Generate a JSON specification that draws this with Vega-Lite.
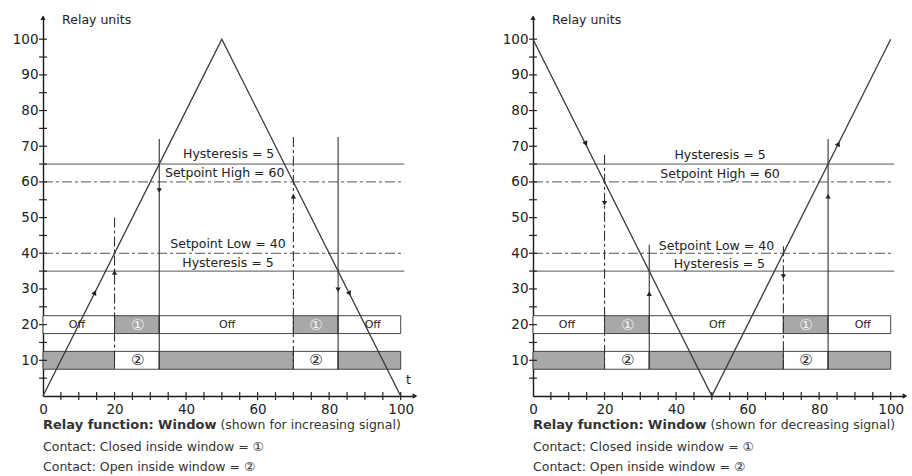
{
  "$schema": "https://vega.github.io/schema/vega-lite/v6.json",
  "padding": {"left": 12, "top": 13, "right": 0, "bottom": 0},
  "spacing": 84,
  "background": "white",
  "config": {
    "view": {"stroke": null},
    "font": "DejaVu Sans",
    "axis": {"grid": false, "ticks": false, "domainColor": "#1a1a1a", "domainWidth": 1.4, "labelFont": "DejaVu Sans", "labelFontSize": 13.5, "labelColor": "#222222", "labelFlush": false, "labelOverlap": false},
    "text": {"font": "DejaVu Sans", "fontSize": 12.5, "color": "#222222"}
  },
  "datasets": {
    "bands": [
      {"x0": 0, "x1": 20, "lo": 17.5, "hi": 22.5, "state": "open", "label": "Off", "xc": 9.5, "yc": 20},
      {"x0": 20, "x1": 32.5, "lo": 17.5, "hi": 22.5, "state": "closed", "label": "①", "xc": 26.5, "yc": 20},
      {"x0": 32.5, "x1": 70, "lo": 17.5, "hi": 22.5, "state": "open", "label": "Off", "xc": 51.5, "yc": 20},
      {"x0": 70, "x1": 82.5, "lo": 17.5, "hi": 22.5, "state": "closed", "label": "①", "xc": 76.3, "yc": 20},
      {"x0": 82.5, "x1": 100, "lo": 17.5, "hi": 22.5, "state": "open", "label": "Off", "xc": 92.2, "yc": 20},
      {"x0": 0, "x1": 20, "lo": 7.5, "hi": 12.5, "state": "closed", "label": "", "xc": 10, "yc": 10},
      {"x0": 20, "x1": 32.5, "lo": 7.5, "hi": 12.5, "state": "open", "label": "②", "xc": 26.5, "yc": 10},
      {"x0": 32.5, "x1": 70, "lo": 7.5, "hi": 12.5, "state": "closed", "label": "", "xc": 51, "yc": 10},
      {"x0": 70, "x1": 82.5, "lo": 7.5, "hi": 12.5, "state": "open", "label": "②", "xc": 76.3, "yc": 10},
      {"x0": 82.5, "x1": 100, "lo": 7.5, "hi": 12.5, "state": "closed", "label": "", "xc": 91, "yc": 10}
    ],
    "hlines": [
      {"y": 65, "kind": "solid"},
      {"y": 60, "kind": "dashdot"},
      {"y": 40, "kind": "dashdot"},
      {"y": 35, "kind": "solid"}
    ],
    "ticks": [
      {"v": 5}, {"v": 10}, {"v": 15}, {"v": 20}, {"v": 25}, {"v": 30}, {"v": 35}, {"v": 40}, {"v": 45}, {"v": 50},
      {"v": 55}, {"v": 60}, {"v": 65}, {"v": 70}, {"v": 75}, {"v": 80}, {"v": 85}, {"v": 90}, {"v": 95}, {"v": 100}
    ],
    "sig_l": [{"x": 0, "y": 0}, {"x": 50, "y": 100}, {"x": 100, "y": 0}],
    "sig_r": [{"x": 0, "y": 100}, {"x": 50, "y": 0}, {"x": 100, "y": 100}],
    "vlines_l": [
      {"x": 20, "top": 50, "kind": "dashdot"},
      {"x": 32.5, "top": 72, "kind": "solid"},
      {"x": 70, "top": 72.6, "kind": "dashdot"},
      {"x": 82.5, "top": 72.6, "kind": "solid"}
    ],
    "vlines_r": [
      {"x": 20, "top": 67.6, "kind": "dashdot"},
      {"x": 32.5, "top": 42.4, "kind": "solid"},
      {"x": 70, "top": 42, "kind": "dashdot"},
      {"x": 82.5, "top": 72, "kind": "solid"}
    ],
    "arrows_l": [
      {"x": 14.5, "y": 29, "dir": "upright"},
      {"x": 85.7, "y": 28.7, "dir": "downright"},
      {"x": 20, "y": 34.6, "dir": "up"},
      {"x": 32.5, "y": 57.6, "dir": "down"},
      {"x": 70, "y": 56, "dir": "up"},
      {"x": 82.5, "y": 29.8, "dir": "down"},
      {"x": 0, "y": 106, "dir": "up"},
      {"x": 104, "y": 0, "dir": "right"}
    ],
    "arrows_r": [
      {"x": 14.8, "y": 70.7, "dir": "downright"},
      {"x": 85.4, "y": 70.7, "dir": "upright"},
      {"x": 20, "y": 54, "dir": "down"},
      {"x": 32.5, "y": 28.7, "dir": "up"},
      {"x": 70, "y": 33.5, "dir": "down"},
      {"x": 82.5, "y": 56, "dir": "up"},
      {"x": 0, "y": 106, "dir": "up"},
      {"x": 104, "y": 0, "dir": "right"}
    ],
    "labels_l": [
      {"x": 51.9, "y": 67.8, "text": "Hysteresis = 5"},
      {"x": 50.8, "y": 62.5, "text": "Setpoint High = 60"},
      {"x": 51.7, "y": 42.7, "text": "Setpoint Low = 40"},
      {"x": 51.7, "y": 37.3, "text": "Hysteresis = 5"},
      {"x": 15, "y": 105.4, "text": "Relay units"},
      {"x": 102.2, "y": 4.6, "text": "t"}
    ],
    "labels_r": [
      {"x": 52.3, "y": 67.6, "text": "Hysteresis = 5"},
      {"x": 52.3, "y": 62.3, "text": "Setpoint High = 60"},
      {"x": 51.3, "y": 42.1, "text": "Setpoint Low = 40"},
      {"x": 52.1, "y": 37, "text": "Hysteresis = 5"},
      {"x": 15, "y": 105.4, "text": "Relay units"}
    ],
    "cap_bold": [{"x": 0, "y": -8, "text": "Relay function: Window"}],
    "cap_l": [
      {"x": 49.6, "y": -8, "text": "(shown for increasing signal)"},
      {"x": 0, "y": -14.4, "text": "Contact: Closed inside window = ①"},
      {"x": 0, "y": -20, "text": "Contact: Open inside window =   ②"}
    ],
    "cap_r": [
      {"x": 49.6, "y": -8, "text": "(shown for decreasing signal)"},
      {"x": 0, "y": -14.4, "text": "Contact: Closed inside window = ①"},
      {"x": 0, "y": -20, "text": "Contact: Open inside window =   ②"}
    ]
  },
  "hconcat": [
    {
      "width": 372,
      "height": 380,
      "layer": [
        {
          "data": {"name": "bands"},
          "mark": {"type": "rect", "stroke": "#333333", "strokeWidth": 0.9},
          "encoding": {
            "x": {"field": "x0", "type": "quantitative", "title": null, "scale": {"domain": [0, 104], "nice": false, "zero": false}, "axis": {"values": [0, 10, 20, 30, 40, 50, 60, 70, 80, 90, 100], "labelPadding": 6}},
            "x2": {"field": "x1"},
            "y": {"field": "lo", "type": "quantitative", "title": null, "scale": {"domain": [0, 106.5], "nice": false, "zero": false}, "axis": {"values": [10, 20, 30, 40, 50, 60, 70, 80, 90, 100], "labelPadding": 5}},
            "y2": {"field": "hi"},
            "fill": {"field": "state", "type": "nominal", "scale": {"domain": ["open", "closed"], "range": ["#ffffff", "#a8a8a8"]}, "legend": null}
          }
        },
        {
          "data": {"name": "hlines"},
          "mark": {"type": "rule", "color": "#555555", "strokeWidth": 1},
          "encoding": {
            "y": {"field": "y", "type": "quantitative", "title": null},
            "x": {"datum": 0},
            "x2": {"datum": 101},
            "strokeDash": {"field": "kind", "type": "nominal", "scale": {"domain": ["solid", "dashdot"], "range": [[1, 0], [10, 3, 3, 3]]}, "legend": null}
          }
        },
        {
          "data": {"name": "vlines_l"},
          "mark": {"type": "rule", "color": "#333333", "strokeWidth": 1.1},
          "encoding": {
            "x": {"field": "x", "type": "quantitative", "title": null},
            "y": {"field": "top", "type": "quantitative", "title": null},
            "y2": {"datum": 7.5},
            "strokeDash": {"field": "kind", "type": "nominal", "scale": {"domain": ["solid", "dashdot"], "range": [[1, 0], [10, 3, 3, 3]]}, "legend": null}
          }
        },
        {
          "data": {"name": "sig_l"},
          "mark": {"type": "line", "color": "#3a3a3a", "strokeWidth": 1.3},
          "encoding": {
            "x": {"field": "x", "type": "quantitative", "title": null},
            "y": {"field": "y", "type": "quantitative", "title": null}
          }
        },
        {
          "data": {"name": "ticks"},
          "mark": {"type": "rule", "color": "#222222", "strokeWidth": 1.2},
          "encoding": {
            "y": {"field": "v", "type": "quantitative", "title": null},
            "x": {"datum": -1.1},
            "x2": {"datum": 1.1}
          }
        },
        {
          "data": {"name": "ticks"},
          "mark": {"type": "rule", "color": "#222222", "strokeWidth": 1.2},
          "encoding": {
            "x": {"field": "v", "type": "quantitative", "title": null},
            "y": {"datum": -1.1},
            "y2": {"datum": 1.1}
          }
        },
        {
          "data": {"name": "arrows_l"},
          "transform": [{"filter": "datum.dir === 'up'"}],
          "mark": {"type": "point", "shape": "triangle-up", "filled": true, "color": "#222222", "opacity": 1, "size": 28, "angle": 0},
          "encoding": {"x": {"field": "x", "type": "quantitative", "title": null}, "y": {"field": "y", "type": "quantitative", "title": null}}
        },
        {
          "data": {"name": "arrows_l"},
          "transform": [{"filter": "datum.dir === 'down'"}],
          "mark": {"type": "point", "shape": "triangle-up", "filled": true, "color": "#222222", "opacity": 1, "size": 28, "angle": 180},
          "encoding": {"x": {"field": "x", "type": "quantitative", "title": null}, "y": {"field": "y", "type": "quantitative", "title": null}}
        },
        {
          "data": {"name": "arrows_l"},
          "transform": [{"filter": "datum.dir === 'upright'"}],
          "mark": {"type": "point", "shape": "triangle-up", "filled": true, "color": "#222222", "opacity": 1, "size": 32, "angle": 27},
          "encoding": {"x": {"field": "x", "type": "quantitative", "title": null}, "y": {"field": "y", "type": "quantitative", "title": null}}
        },
        {
          "data": {"name": "arrows_l"},
          "transform": [{"filter": "datum.dir === 'downright'"}],
          "mark": {"type": "point", "shape": "triangle-up", "filled": true, "color": "#222222", "opacity": 1, "size": 32, "angle": 153},
          "encoding": {"x": {"field": "x", "type": "quantitative", "title": null}, "y": {"field": "y", "type": "quantitative", "title": null}}
        },
        {
          "data": {"name": "arrows_l"},
          "transform": [{"filter": "datum.dir === 'right'"}],
          "mark": {"type": "point", "shape": "triangle-up", "filled": true, "color": "#222222", "opacity": 1, "size": 28, "angle": 90},
          "encoding": {"x": {"field": "x", "type": "quantitative", "title": null}, "y": {"field": "y", "type": "quantitative", "title": null}}
        },
        {
          "data": {"name": "labels_l"},
          "mark": {"type": "text", "align": "center", "baseline": "middle", "fontSize": 12.5},
          "encoding": {"x": {"field": "x", "type": "quantitative", "title": null}, "y": {"field": "y", "type": "quantitative", "title": null}, "text": {"field": "text"}}
        },
        {
          "data": {"name": "bands"},
          "transform": [{"filter": "datum.label === 'Off'"}],
          "mark": {"type": "text", "align": "center", "baseline": "middle", "fontSize": 11},
          "encoding": {
            "x": {"field": "xc", "type": "quantitative", "title": null},
            "y": {"field": "yc", "type": "quantitative", "title": null},
            "text": {"field": "label"}
          }
        },
        {
          "data": {"name": "bands"},
          "transform": [{"filter": "datum.label !== 'Off' && datum.label !== ''"}],
          "mark": {"type": "text", "align": "center", "baseline": "middle", "fontSize": 15},
          "encoding": {
            "x": {"field": "xc", "type": "quantitative", "title": null},
            "y": {"field": "yc", "type": "quantitative", "title": null},
            "text": {"field": "label"},
            "color": {"field": "state", "type": "nominal", "scale": {"domain": ["open", "closed"], "range": ["#222222", "#f4f4f4"]}, "legend": null}
          }
        },
        {
          "data": {"name": "cap_bold"},
          "mark": {"type": "text", "align": "left", "baseline": "middle", "fontSize": 13, "fontWeight": "bold", "color": "#333333"},
          "encoding": {"x": {"field": "x", "type": "quantitative", "title": null}, "y": {"field": "y", "type": "quantitative", "title": null}, "text": {"field": "text"}}
        },
        {
          "data": {"name": "cap_l"},
          "mark": {"type": "text", "align": "left", "baseline": "middle", "fontSize": 12.5, "color": "#333333"},
          "encoding": {"x": {"field": "x", "type": "quantitative", "title": null}, "y": {"field": "y", "type": "quantitative", "title": null}, "text": {"field": "text"}}
        }
      ]
    },
    {
      "width": 372,
      "height": 380,
      "layer": [
        {
          "data": {"name": "bands"},
          "mark": {"type": "rect", "stroke": "#333333", "strokeWidth": 0.9},
          "encoding": {
            "x": {"field": "x0", "type": "quantitative", "title": null, "scale": {"domain": [0, 104], "nice": false, "zero": false}, "axis": {"values": [0, 10, 20, 30, 40, 50, 60, 70, 80, 90, 100], "labelPadding": 6}},
            "x2": {"field": "x1"},
            "y": {"field": "lo", "type": "quantitative", "title": null, "scale": {"domain": [0, 106.5], "nice": false, "zero": false}, "axis": {"values": [10, 20, 30, 40, 50, 60, 70, 80, 90, 100], "labelPadding": 5}},
            "y2": {"field": "hi"},
            "fill": {"field": "state", "type": "nominal", "scale": {"domain": ["open", "closed"], "range": ["#ffffff", "#a8a8a8"]}, "legend": null}
          }
        },
        {
          "data": {"name": "hlines"},
          "mark": {"type": "rule", "color": "#555555", "strokeWidth": 1},
          "encoding": {
            "y": {"field": "y", "type": "quantitative", "title": null},
            "x": {"datum": 0},
            "x2": {"datum": 101},
            "strokeDash": {"field": "kind", "type": "nominal", "scale": {"domain": ["solid", "dashdot"], "range": [[1, 0], [10, 3, 3, 3]]}, "legend": null}
          }
        },
        {
          "data": {"name": "vlines_r"},
          "mark": {"type": "rule", "color": "#333333", "strokeWidth": 1.1},
          "encoding": {
            "x": {"field": "x", "type": "quantitative", "title": null},
            "y": {"field": "top", "type": "quantitative", "title": null},
            "y2": {"datum": 7.5},
            "strokeDash": {"field": "kind", "type": "nominal", "scale": {"domain": ["solid", "dashdot"], "range": [[1, 0], [10, 3, 3, 3]]}, "legend": null}
          }
        },
        {
          "data": {"name": "sig_r"},
          "mark": {"type": "line", "color": "#3a3a3a", "strokeWidth": 1.3},
          "encoding": {
            "x": {"field": "x", "type": "quantitative", "title": null},
            "y": {"field": "y", "type": "quantitative", "title": null}
          }
        },
        {
          "data": {"name": "ticks"},
          "mark": {"type": "rule", "color": "#222222", "strokeWidth": 1.2},
          "encoding": {
            "y": {"field": "v", "type": "quantitative", "title": null},
            "x": {"datum": -1.1},
            "x2": {"datum": 1.1}
          }
        },
        {
          "data": {"name": "ticks"},
          "mark": {"type": "rule", "color": "#222222", "strokeWidth": 1.2},
          "encoding": {
            "x": {"field": "v", "type": "quantitative", "title": null},
            "y": {"datum": -1.1},
            "y2": {"datum": 1.1}
          }
        },
        {
          "data": {"name": "arrows_r"},
          "transform": [{"filter": "datum.dir === 'up'"}],
          "mark": {"type": "point", "shape": "triangle-up", "filled": true, "color": "#222222", "opacity": 1, "size": 28, "angle": 0},
          "encoding": {"x": {"field": "x", "type": "quantitative", "title": null}, "y": {"field": "y", "type": "quantitative", "title": null}}
        },
        {
          "data": {"name": "arrows_r"},
          "transform": [{"filter": "datum.dir === 'down'"}],
          "mark": {"type": "point", "shape": "triangle-up", "filled": true, "color": "#222222", "opacity": 1, "size": 28, "angle": 180},
          "encoding": {"x": {"field": "x", "type": "quantitative", "title": null}, "y": {"field": "y", "type": "quantitative", "title": null}}
        },
        {
          "data": {"name": "arrows_r"},
          "transform": [{"filter": "datum.dir === 'upright'"}],
          "mark": {"type": "point", "shape": "triangle-up", "filled": true, "color": "#222222", "opacity": 1, "size": 32, "angle": 27},
          "encoding": {"x": {"field": "x", "type": "quantitative", "title": null}, "y": {"field": "y", "type": "quantitative", "title": null}}
        },
        {
          "data": {"name": "arrows_r"},
          "transform": [{"filter": "datum.dir === 'downright'"}],
          "mark": {"type": "point", "shape": "triangle-up", "filled": true, "color": "#222222", "opacity": 1, "size": 32, "angle": 153},
          "encoding": {"x": {"field": "x", "type": "quantitative", "title": null}, "y": {"field": "y", "type": "quantitative", "title": null}}
        },
        {
          "data": {"name": "arrows_r"},
          "transform": [{"filter": "datum.dir === 'right'"}],
          "mark": {"type": "point", "shape": "triangle-up", "filled": true, "color": "#222222", "opacity": 1, "size": 28, "angle": 90},
          "encoding": {"x": {"field": "x", "type": "quantitative", "title": null}, "y": {"field": "y", "type": "quantitative", "title": null}}
        },
        {
          "data": {"name": "labels_r"},
          "mark": {"type": "text", "align": "center", "baseline": "middle", "fontSize": 12.5},
          "encoding": {"x": {"field": "x", "type": "quantitative", "title": null}, "y": {"field": "y", "type": "quantitative", "title": null}, "text": {"field": "text"}}
        },
        {
          "data": {"name": "bands"},
          "transform": [{"filter": "datum.label === 'Off'"}],
          "mark": {"type": "text", "align": "center", "baseline": "middle", "fontSize": 11},
          "encoding": {
            "x": {"field": "xc", "type": "quantitative", "title": null},
            "y": {"field": "yc", "type": "quantitative", "title": null},
            "text": {"field": "label"}
          }
        },
        {
          "data": {"name": "bands"},
          "transform": [{"filter": "datum.label !== 'Off' && datum.label !== ''"}],
          "mark": {"type": "text", "align": "center", "baseline": "middle", "fontSize": 15},
          "encoding": {
            "x": {"field": "xc", "type": "quantitative", "title": null},
            "y": {"field": "yc", "type": "quantitative", "title": null},
            "text": {"field": "label"},
            "color": {"field": "state", "type": "nominal", "scale": {"domain": ["open", "closed"], "range": ["#222222", "#f4f4f4"]}, "legend": null}
          }
        },
        {
          "data": {"name": "cap_bold"},
          "mark": {"type": "text", "align": "left", "baseline": "middle", "fontSize": 13, "fontWeight": "bold", "color": "#333333"},
          "encoding": {"x": {"field": "x", "type": "quantitative", "title": null}, "y": {"field": "y", "type": "quantitative", "title": null}, "text": {"field": "text"}}
        },
        {
          "data": {"name": "cap_r"},
          "mark": {"type": "text", "align": "left", "baseline": "middle", "fontSize": 12.5, "color": "#333333"},
          "encoding": {"x": {"field": "x", "type": "quantitative", "title": null}, "y": {"field": "y", "type": "quantitative", "title": null}, "text": {"field": "text"}}
        }
      ]
    }
  ]
}
